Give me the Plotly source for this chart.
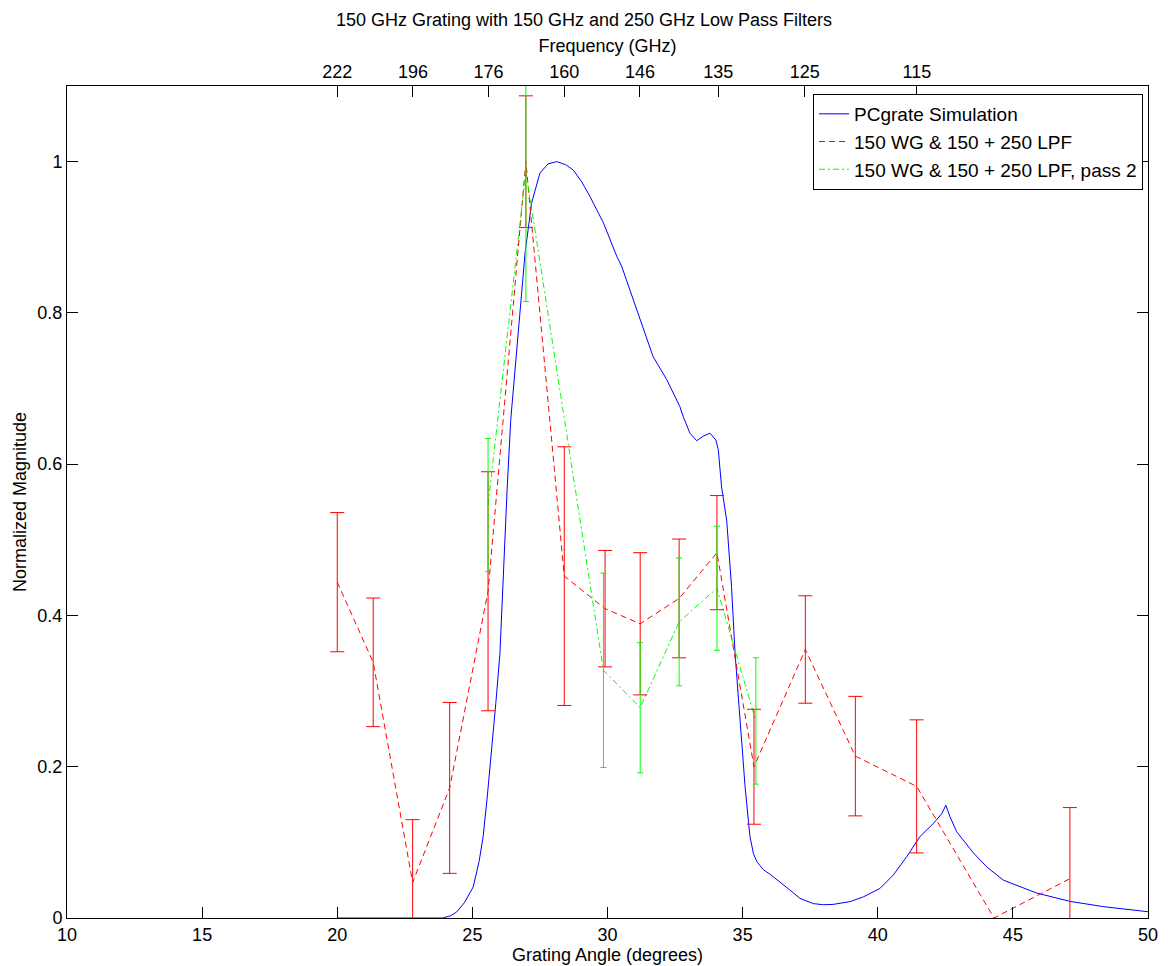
import plotly.graph_objects as go

# PCgrate simulation (blue)
sim_x = [20.0, 23.9, 24.2, 24.42, 24.7, 25.03, 25.25, 25.40, 25.55, 25.71, 25.87, 26.02, 26.17, 26.29,
         26.42, 26.70, 26.95, 27.19, 27.50, 27.8, 28.12, 28.45, 28.73, 29.05, 29.35, 29.85, 30.34,
         30.52, 30.96, 31.32, 31.69, 32.19, 32.68, 32.80, 33.05, 33.30, 33.54, 33.79, 34.01, 34.10,
         34.22, 34.41, 34.59, 34.72, 34.90, 35.09, 35.27, 35.40, 35.52, 35.76, 36.01, 36.38, 36.75,
         37.12, 37.62, 38.0, 38.35, 38.97, 39.47, 40.08, 40.58, 41.07, 41.57, 42.06, 42.37, 42.52,
         42.67, 42.92, 43.54, 44.05, 44.65, 45.88, 47.11, 48.35, 50.0]
sim_y = [0.0, 0.0, 0.003, 0.008, 0.02, 0.041, 0.075, 0.108, 0.16, 0.218, 0.285, 0.350, 0.482, 0.570,
         0.659, 0.778, 0.879, 0.945, 0.985, 0.997, 1.0, 0.996, 0.989, 0.973, 0.954, 0.919, 0.875,
         0.862, 0.817, 0.778, 0.742, 0.712, 0.676, 0.663, 0.641, 0.631, 0.637, 0.641, 0.632, 0.619,
         0.570, 0.526, 0.438, 0.350, 0.262, 0.174, 0.108, 0.085, 0.075, 0.064, 0.058, 0.048, 0.037,
         0.026, 0.019, 0.0175, 0.018, 0.0216, 0.028, 0.039, 0.057, 0.081, 0.108, 0.125, 0.138, 0.149,
         0.134, 0.114, 0.086, 0.067, 0.050, 0.033, 0.022, 0.015, 0.0083]

# 150 WG & 150 + 250 LPF (red)
red_x = [20.0, 21.33, 22.79, 24.16, 25.58, 26.98, 28.4, 29.91, 31.21, 32.65, 34.05, 35.42, 37.32,
         39.17, 41.44, 44.3, 47.11]
red_y = [0.444, 0.338, 0.047, 0.172, 0.432, 1.0, 0.452, 0.409, 0.389, 0.4225, 0.483, 0.200, 0.355,
         0.214, 0.174, 0.0, 0.052]
red_err = [0.092, 0.085, 0.083, 0.113, 0.158, 0.087, 0.171, 0.077, 0.094, 0.0785, 0.0755, 0.076,
           0.071, 0.079, 0.088, None, 0.094]

# pass 2 (green)
grn_x = [25.58, 26.98, 29.85, 31.21, 32.65, 34.05, 35.49]
grn_y = [0.546, 0.987, 0.3275, 0.278, 0.3915, 0.436, 0.2605]
grn_err = [0.088, 0.172, 0.1285, 0.086, 0.0845, 0.082, 0.0835]

# top axis (frequency)
freq_pos = [20.0, 22.8, 25.6, 28.4, 31.2, 34.1, 37.3, 41.45]
freq_lbl = ['222', '196', '176', '160', '146', '135', '125', '115']

FONT = "Arial, Liberation Sans, sans-serif"
FS = 18

fig = go.Figure()

fig.add_trace(go.Scatter(x=sim_x, y=sim_y, mode='lines', name='PCgrate Simulation',
                         line=dict(color='rgb(0,0,255)', width=1)))
fig.add_trace(go.Scatter(x=red_x, y=red_y, mode='lines', name='150 WG & 150 + 250 LPF',
                         line=dict(color='rgb(255,0,0)', width=1, dash='6px,4px')))
fig.add_trace(go.Scatter(x=grn_x, y=grn_y, mode='lines', name='150 WG & 150 + 250 LPF, pass 2',
                         line=dict(color='rgb(0,255,0)', width=1, dash='6px,3px,2px,3px')))

# error bars
rex = [x for x, e in zip(red_x, red_err) if e is not None]
rey = [y for y, e in zip(red_y, red_err) if e is not None]
ree = [e for e in red_err if e is not None]
fig.add_trace(go.Scatter(x=rex, y=rey, mode='markers', marker=dict(size=1, opacity=0),
                         showlegend=False, hoverinfo='skip',
                         error_y=dict(type='data', array=ree, color='rgb(255,0,0)', thickness=1, width=7)))
fig.add_trace(go.Scatter(x=grn_x, y=grn_y, mode='markers', marker=dict(size=1, opacity=0),
                         showlegend=False, hoverinfo='skip',
                         error_y=dict(type='data', array=grn_err, color='rgb(0,255,0)', thickness=1, width=3)))

# dummy trace to activate top axis
fig.add_trace(go.Scatter(x=[10, 50], y=[0, 0], xaxis='x2', mode='lines', showlegend=False,
                         hoverinfo='skip', line=dict(width=0), opacity=0))

fig.update_layout(
    width=1168, height=966,
    margin=dict(l=67, r=20, t=86, b=48),
    paper_bgcolor='white', plot_bgcolor='white',
    font=dict(family=FONT, size=FS, color='black'),
    title=dict(text='150 GHz Grating with 150 GHz and 250 GHz Low Pass Filters',
               x=0.5, xanchor='center', y=1 - 20 / 966, yanchor='middle',
               font=dict(size=FS)),
    xaxis=dict(range=[10, 50], tickvals=[10, 15, 20, 25, 30, 35, 40, 45, 50],
               ticks='inside', ticklen=11, tickcolor='black', showline=True, linecolor='black',
               linewidth=1, mirror=False, showgrid=False, zeroline=False, automargin=False,
               title=dict(text='Grating Angle (degrees)', standoff=0, font=dict(size=FS))),
    xaxis2=dict(range=[10, 50], overlaying='x', side='top', tickvals=freq_pos, ticktext=freq_lbl,
                ticks='inside', ticklen=11, tickcolor='black', showline=True, linecolor='black',
                linewidth=1, showgrid=False, zeroline=False, automargin=False,
                title=dict(text='Frequency (GHz)', standoff=4, font=dict(size=FS))),
    yaxis=dict(range=[0, 1.1], tickvals=[0, 0.2, 0.4, 0.6, 0.8, 1.0],
               ticktext=['0', '0.2', '0.4', '0.6', '0.8', '1'],
               ticks='inside', ticklen=11, tickcolor='black', showline=True, linecolor='black',
               linewidth=1, mirror='ticks', showgrid=False, zeroline=False, automargin=False,
               title=dict(text='Normalized Magnitude', standoff=6, font=dict(size=FS))),
    legend=dict(x=0.9954, y=0.9904, xanchor='right', yanchor='top', bgcolor='white',
                bordercolor='black', borderwidth=1, font=dict(size=19),
                tracegroupgap=0),
    showlegend=True,
)

fig.write_html("out.html")
